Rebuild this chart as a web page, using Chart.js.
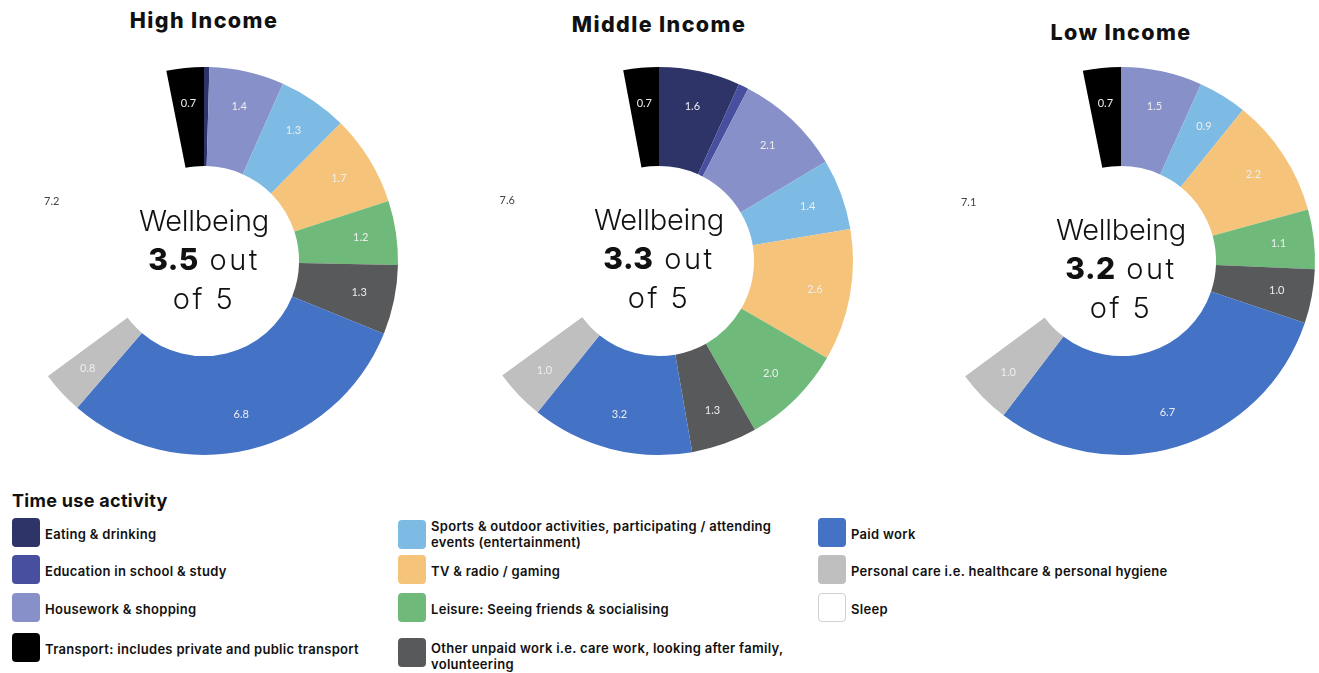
<!DOCTYPE html>
<html>
<head>
<meta charset="utf-8">
<script src="https://cdn.jsdelivr.net/npm/chart.js@4.4.0/dist/chart.umd.min.js"></script>
<style>
  html, body { margin: 0; padding: 0; background: #fff; }
  body { width: 1319px; height: 673px; position: relative; overflow: hidden; font-family: Inter, "Noto Sans", sans-serif; color: #111; }
  .ring { position: absolute; top: 65px; width: 392px; height: 392px; }
  .title { position: absolute; width: 300px; margin-left: -150px; text-align: center; font-weight: 800; font-size: 21.5px; letter-spacing: 1.4px; line-height: 24px; }
  .centre { position: absolute; width: 220px; margin-left: -110px; text-align: center; font-weight: 300; font-size: 29px; line-height: 39px; color: #111; }
  .centre .w { letter-spacing: -0.3px; }
  .centre .o { letter-spacing: 2.5px; }
  .centre b { font-weight: 800; font-size: 30px; letter-spacing: 0.5px; }
  .legend-title { position: absolute; left: 12px; top: 490px; font-weight: 700; font-size: 18px; letter-spacing: 0.3px; }
  .item { position: absolute; display: flex; align-items: center; font-weight: 600; font-size: 13px; letter-spacing: 0.3px; line-height: 16px; }
  .swatch { width: 28px; height: 29px; border-radius: 4px; margin-right: 5px; flex: none; box-sizing: border-box; }
</style>
</head>
<body>
<script>
// activities, in the order the rings go round (clockwise from 12 o'clock)
const activities = [
  'Eating & drinking',
  'Education in school & study',
  'Housework & shopping',
  'Sports & outdoor activities, participating / attending events (entertainment)',
  'TV & radio / gaming',
  'Leisure: Seeing friends & socialising',
  'Other unpaid work i.e. care work, looking after family, volunteering',
  'Paid work',
  'Personal care i.e. healthcare & personal hygiene',
  'Sleep',
  'Transport: includes private and public transport'
];

const colours = ['#2e3468', '#474f9e', '#8790c8', '#7dbae4', '#f5c37a', '#6fba7a',
                 '#58595b', '#4472c4', '#bfbfbf', '#ffffff', '#000000'];

// hours per day
const highIncome   = [0.1, 0.0, 1.4, 1.3, 1.7, 1.2, 1.3, 6.8, 0.8, 7.2, 0.7];
const middleIncome = [1.6, 0.2, 2.1, 1.4, 2.6, 2.0, 1.3, 3.2, 1.0, 7.6, 0.7];
const lowIncome    = [0.0, 0.0, 1.5, 0.9, 2.2, 1.1, 1.0, 6.7, 1.0, 7.1, 0.7];

const groups = ['High Income', 'Middle Income', 'Low Income'];
const wellbeing = ['3.5', '3.3', '3.2'];

// legend columns (indices into activities)
const legendColumns = [[0, 1, 2, 10], [3, 4, 5, 6], [7, 8, 9]];

const SLEEP = 9;

const valueLabels = {
    id: 'valueLabels',
    afterDatasetsDraw(chart) {
        const ctx = chart.ctx;
        const values = chart.data.datasets[0].data;
        ctx.save();
        ctx.font = '11px Lato, "Open Sans", sans-serif';
        ctx.textAlign = 'center';
        ctx.textBaseline = 'middle';
        chart.getDatasetMeta(0).data.forEach((arc, i) => {
            if (values[i] < 0.5) return;
            const p = arc.getProps(['x', 'y', 'startAngle', 'endAngle', 'innerRadius', 'outerRadius'], true);
            const mid = (p.startAngle + p.endAngle) / 2;
            const r = p.innerRadius + (p.outerRadius - p.innerRadius) * (i === SLEEP ? 0.69 : 0.64);
            ctx.fillStyle = i === SLEEP ? '#444444' : '#eeeeee';
            ctx.fillText(values[i].toFixed(1), p.x + Math.cos(mid) * r, p.y + Math.sin(mid) * r);
        });
        ctx.restore();
    }
};

const layout = [
    { cx: 204, titleY: 8, textY: 201 },
    { cx: 659, titleY: 12, textY: 200 },
    { cx: 1121, titleY: 20, textY: 210 }
];

[highIncome, middleIncome, lowIncome].forEach((series, k) => {
    const pos = layout[k];

    const title = document.createElement('div');
    title.className = 'title';
    title.style.left = pos.cx + 'px';
    title.style.top = pos.titleY + 'px';
    title.textContent = groups[k];
    document.body.appendChild(title);

    const box = document.createElement('div');
    box.className = 'ring';
    box.style.left = (pos.cx - 196) + 'px';
    const canvas = document.createElement('canvas');
    box.appendChild(canvas);
    document.body.appendChild(box);

    const centre = document.createElement('div');
    centre.className = 'centre';
    centre.style.left = pos.cx + 'px';
    centre.style.top = pos.textY + 'px';
    centre.innerHTML = '<span class="w">Wellbeing</span><br><b>' + wellbeing[k] +
        '</b><span class="o"> out</span><br><span class="o">of 5</span>';
    document.body.appendChild(centre);

    new Chart(canvas, {
        type: 'doughnut',
        data: {
            labels: activities,
            datasets: [{
                data: series,
                backgroundColor: colours,
                borderWidth: 0
            }]
        },
        options: {
            responsive: true,
            maintainAspectRatio: false,
            animation: false,
            cutout: '49%',
            layout: { padding: 2 },
            plugins: {
                legend: { display: false },
                tooltip: { enabled: false }
            }
        },
        plugins: [valueLabels]
    });
});

// legend
const legendTitle = document.createElement('div');
legendTitle.className = 'legend-title';
legendTitle.textContent = 'Time use activity';
document.body.appendChild(legendTitle);

const colLeft = [12, 398, 818];
const rowTop = [518, 555, 593, 633];
const textWidth = [340, 368, 340];
legendColumns.forEach((col, c) => {
    col.forEach((idx, r) => {
        const item = document.createElement('div');
        item.className = 'item';
        item.style.left = colLeft[c] + 'px';
        item.style.top = rowTop[r] + 'px';
        const sw = document.createElement('div');
        sw.className = 'swatch';
        sw.style.background = colours[idx];
        if (idx === SLEEP) sw.style.border = '1px solid #d0d0d0';
        const txt = document.createElement('div');
        txt.style.width = textWidth[c] + 'px';
        txt.textContent = activities[idx];
        if (idx === 6) {
            txt.style.alignSelf = 'flex-start';
            txt.style.marginTop = '7px';
        } else if (idx !== 3) {
            txt.style.paddingTop = '3px';
        }
        item.appendChild(sw);
        item.appendChild(txt);
        document.body.appendChild(item);
    });
});
</script>
</body>
</html>
